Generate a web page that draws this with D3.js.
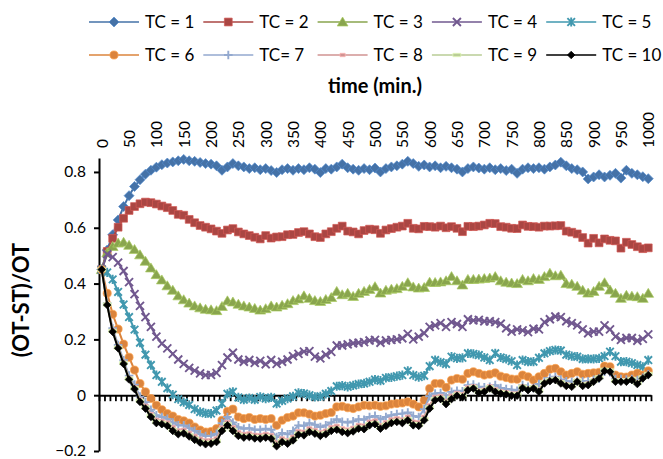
<!DOCTYPE html>
<html lang="en">
<head>
<meta charset="UTF-8">
<title>(OT-ST)/OT over time</title>
<script src="https://cdn.jsdelivr.net/npm/d3@7"></script>
<style>
  body { margin: 0; background: #fff; }
  svg { display: block; font-family: Lato, "Open Sans", sans-serif; }
</style>
</head>
<body>
<div id="chart"></div>
<script>
// categories: time in minutes, one point every 10 min
var times = d3.range(0, 1001, 10);
var xTickLabels = [0, 50, 100, 150, 200, 250, 300, 350, 400, 450, 500, 550, 600, 650, 700, 750, 800, 850, 900, 950, 1000];
var yTicks = [-0.2, 0, 0.2, 0.4, 0.6, 0.8];
var names = ["TC = 1", "TC = 2", "TC = 3", "TC = 4", "TC = 5", "TC = 6", "TC= 7", "TC = 8", "TC = 9", "TC = 10"];

var tc1 = [0.45,0.52,0.575,0.628,0.676,0.715,0.748,0.772,0.792,0.806,0.817,0.826,0.832,0.836,0.84,0.845,0.84,0.838,0.834,0.83,0.828,0.822,0.806,0.818,0.83,0.822,
  0.818,0.812,0.815,0.808,0.812,0.805,0.798,0.808,0.812,0.806,0.812,0.808,0.815,0.81,0.798,0.812,0.81,0.818,0.828,0.815,0.81,0.806,0.812,0.808,0.814,
  0.8,0.812,0.818,0.822,0.828,0.838,0.83,0.82,0.825,0.818,0.822,0.815,0.82,0.815,0.81,0.8,0.812,0.818,0.814,0.81,0.815,0.808,0.812,0.805,0.81,0.795,
  0.81,0.815,0.812,0.815,0.81,0.818,0.825,0.835,0.822,0.812,0.808,0.8,0.775,0.782,0.79,0.782,0.788,0.795,0.778,0.806,0.795,0.79,0.783,0.776];
var tc2 = [0.45,0.515,0.562,0.602,0.634,0.662,0.676,0.686,0.692,0.69,0.685,0.678,0.672,0.662,0.648,0.645,0.63,0.618,0.608,0.602,0.596,0.588,0.58,0.592,0.597,0.585,
  0.578,0.572,0.566,0.56,0.572,0.563,0.567,0.568,0.575,0.576,0.583,0.586,0.578,0.568,0.565,0.578,0.586,0.598,0.606,0.588,0.585,0.578,0.59,0.595,0.593,
  0.58,0.592,0.597,0.602,0.606,0.616,0.598,0.596,0.605,0.604,0.602,0.606,0.6,0.604,0.598,0.586,0.605,0.604,0.606,0.61,0.616,0.615,0.604,0.602,0.598,0.597,
  0.61,0.605,0.604,0.602,0.606,0.606,0.607,0.608,0.588,0.584,0.578,0.565,0.545,0.562,0.546,0.56,0.555,0.553,0.527,0.548,0.54,0.532,0.525,0.528];
var tc3 = [0.45,0.51,0.533,0.545,0.548,0.537,0.522,0.503,0.48,0.456,0.432,0.413,0.392,0.376,0.356,0.342,0.33,0.32,0.313,0.308,0.306,0.303,0.318,0.338,0.334,0.326,
  0.32,0.316,0.311,0.305,0.31,0.32,0.316,0.322,0.328,0.339,0.345,0.356,0.347,0.339,0.336,0.343,0.35,0.372,0.36,0.365,0.354,0.365,0.372,0.379,0.389,
  0.366,0.376,0.38,0.382,0.39,0.403,0.388,0.384,0.386,0.405,0.404,0.406,0.41,0.425,0.41,0.395,0.415,0.415,0.416,0.418,0.42,0.425,0.41,0.405,0.402,0.4,
  0.415,0.41,0.418,0.415,0.425,0.437,0.428,0.43,0.4,0.398,0.39,0.376,0.366,0.372,0.39,0.403,0.377,0.365,0.347,0.358,0.355,0.353,0.347,0.365];
var tc4 = [0.45,0.505,0.495,0.475,0.445,0.405,0.362,0.32,0.28,0.245,0.21,0.185,0.168,0.148,0.128,0.112,0.098,0.088,0.078,0.072,0.073,0.08,0.108,0.135,0.152,0.128,
  0.12,0.126,0.116,0.123,0.111,0.126,0.112,0.12,0.128,0.14,0.148,0.156,0.158,0.138,0.132,0.145,0.155,0.178,0.178,0.182,0.186,0.188,0.19,0.196,0.198,
  0.188,0.196,0.198,0.2,0.204,0.22,0.2,0.21,0.222,0.245,0.25,0.258,0.245,0.262,0.255,0.245,0.272,0.268,0.27,0.265,0.265,0.262,0.256,0.24,0.228,0.236,
  0.232,0.226,0.238,0.236,0.262,0.272,0.282,0.28,0.265,0.258,0.25,0.236,0.222,0.228,0.228,0.25,0.236,0.21,0.198,0.205,0.205,0.195,0.202,0.218];
var tc5 = [0.45,0.44,0.415,0.37,0.325,0.28,0.235,0.188,0.145,0.108,0.072,0.048,0.025,0.002,-0.014,-0.025,-0.035,-0.05,-0.06,-0.065,-0.066,-0.055,-0.03,0.005,0.012,-0.008,
  -0.016,-0.01,-0.016,-0.006,-0.012,-0.008,-0.03,-0.02,-0.012,-0.004,0.008,0.006,0.0,-0.006,-0.004,0.005,0.015,0.032,0.034,0.03,0.035,0.04,0.042,0.048,0.056,
  0.052,0.062,0.064,0.068,0.072,0.087,0.072,0.065,0.07,0.104,0.126,0.118,0.112,0.138,0.132,0.134,0.15,0.148,0.144,0.135,0.126,0.15,0.135,0.13,0.122,0.108,
  0.126,0.12,0.12,0.134,0.15,0.158,0.162,0.16,0.145,0.14,0.138,0.13,0.13,0.13,0.132,0.14,0.156,0.14,0.12,0.12,0.115,0.108,0.102,0.126];
var tc6 = [0.45,0.365,0.29,0.237,0.183,0.136,0.09,0.042,0.012,-0.012,-0.036,-0.052,-0.066,-0.075,-0.087,-0.092,-0.1,-0.114,-0.125,-0.132,-0.13,-0.12,-0.09,-0.058,-0.05,-0.078,
  -0.084,-0.08,-0.087,-0.084,-0.087,-0.084,-0.108,-0.09,-0.08,-0.075,-0.063,-0.063,-0.068,-0.075,-0.072,-0.066,-0.062,-0.042,-0.04,-0.045,-0.048,-0.042,-0.036,-0.038,-0.036,
  -0.04,-0.038,-0.032,-0.03,-0.028,-0.024,-0.032,-0.042,-0.018,0.024,0.042,0.042,0.028,0.054,0.06,0.057,0.078,0.084,0.078,0.072,0.075,0.08,0.068,0.063,0.058,0.057,
  0.072,0.066,0.054,0.066,0.078,0.093,0.096,0.084,0.072,0.078,0.084,0.075,0.078,0.08,0.082,0.104,0.102,0.072,0.066,0.065,0.072,0.078,0.072,0.087];
var tc7 = [0.45,0.33,0.24,0.18,0.125,0.07,0.038,-0.005,-0.025,-0.052,-0.072,-0.078,-0.085,-0.098,-0.108,-0.108,-0.118,-0.128,-0.14,-0.146,-0.145,-0.138,-0.1,-0.078,-0.098,-0.115,
  -0.12,-0.118,-0.124,-0.124,-0.12,-0.124,-0.15,-0.135,-0.14,-0.128,-0.108,-0.11,-0.1,-0.106,-0.114,-0.108,-0.098,-0.086,-0.095,-0.098,-0.094,-0.086,-0.088,-0.078,-0.074,
  -0.086,-0.078,-0.072,-0.068,-0.066,-0.062,-0.074,-0.078,-0.05,-0.004,0.006,0.008,-0.006,0.012,0.016,0.014,0.036,0.038,0.03,0.028,0.03,0.036,0.026,0.022,0.02,0.016,
  0.036,0.03,0.026,0.04,0.05,0.062,0.066,0.056,0.05,0.048,0.052,0.05,0.05,0.055,0.06,0.084,0.082,0.058,0.058,0.056,0.058,0.054,0.062,0.075];
var tc8 = [0.45,0.326,0.232,0.172,0.117,0.061,0.028,-0.016,-0.038,-0.068,-0.088,-0.092,-0.098,-0.114,-0.126,-0.124,-0.135,-0.146,-0.156,-0.162,-0.161,-0.155,-0.116,-0.096,-0.115,-0.133,
  -0.139,-0.137,-0.142,-0.143,-0.139,-0.143,-0.17,-0.155,-0.161,-0.149,-0.129,-0.131,-0.119,-0.125,-0.133,-0.127,-0.115,-0.11,-0.119,-0.123,-0.117,-0.107,-0.109,-0.095,-0.091,
  -0.107,-0.097,-0.087,-0.083,-0.087,-0.077,-0.095,-0.097,-0.077,-0.036,-0.006,-0.003,-0.02,-0.002,0.008,0.003,0.028,0.032,0.017,0.02,0.032,0.021,0.014,0.011,0.006,0.006,
  0.032,0.025,0.03,0.02,0.048,0.055,0.059,0.048,0.039,0.036,0.053,0.039,0.042,0.053,0.065,0.09,0.088,0.053,0.053,0.053,0.059,0.046,0.065,0.076];
var tc9 = [0.45,0.325,0.23,0.17,0.115,0.059,0.025,-0.02,-0.044,-0.074,-0.096,-0.1,-0.106,-0.124,-0.136,-0.133,-0.144,-0.156,-0.166,-0.172,-0.17,-0.164,-0.124,-0.104,-0.124,-0.142,
  -0.148,-0.146,-0.151,-0.152,-0.148,-0.152,-0.179,-0.164,-0.17,-0.158,-0.138,-0.14,-0.128,-0.134,-0.142,-0.136,-0.124,-0.12,-0.128,-0.132,-0.126,-0.116,-0.118,-0.104,-0.1,
  -0.116,-0.106,-0.096,-0.092,-0.096,-0.086,-0.104,-0.106,-0.086,-0.044,-0.014,-0.01,-0.028,-0.01,0.002,-0.004,0.022,0.028,0.012,0.016,0.028,0.016,0.01,0.007,0.002,0.002,
  0.03,0.022,0.028,0.016,0.046,0.054,0.058,0.046,0.037,0.034,0.052,0.037,0.04,0.052,0.064,0.091,0.088,0.052,0.052,0.052,0.058,0.044,0.064,0.076];
var tc10 = [0.45,0.323,0.227,0.168,0.112,0.056,0.022,-0.024,-0.048,-0.078,-0.1,-0.104,-0.11,-0.128,-0.14,-0.137,-0.148,-0.16,-0.17,-0.176,-0.174,-0.168,-0.128,-0.108,-0.128,-0.146,
  -0.152,-0.15,-0.155,-0.156,-0.152,-0.156,-0.183,-0.168,-0.174,-0.162,-0.142,-0.144,-0.132,-0.138,-0.146,-0.14,-0.128,-0.124,-0.132,-0.136,-0.13,-0.12,-0.122,-0.108,-0.104,
  -0.12,-0.11,-0.1,-0.096,-0.1,-0.09,-0.108,-0.11,-0.09,-0.048,-0.018,-0.014,-0.032,-0.014,-0.002,-0.008,0.018,0.024,0.008,0.012,0.024,0.012,0.006,0.003,-0.002,-0.002,
  0.026,0.018,0.024,0.012,0.042,0.05,0.054,0.042,0.033,0.03,0.048,0.033,0.036,0.048,0.06,0.087,0.084,0.048,0.048,0.048,0.054,0.04,0.06,0.072];

var colors = ["#4572A7", "#AA4643", "#89A54E", "#71588F", "#4198AF", "#DB843D", "#93A9CF", "#D19392", "#B9CD96", "#000000"];
var markers = ["diamond", "square", "triangle", "x", "star", "circle", "plus", "smallrect", "dash", "smalldiamond"];
var values = [tc1, tc2, tc3, tc4, tc5, tc6, tc7, tc8, tc9, tc10];

var series = names.map(function(n, k) {
  return { name: n, values: values[k], color: colors[k], marker: markers[k] };
});

var width = 663, height = 459;
var plotLeft = 99, plotRight = 651, plotTop = 158, plotBottom = 451;

var svg = d3.select("#chart").append("svg")
  .attr("width", width).attr("height", height);
svg.append("rect").attr("width", width).attr("height", height).attr("fill", "#fff");

// category axis: points sit between tick marks
var x = d3.scaleLinear().domain([-0.5, times.length - 0.5]).range([plotLeft, plotRight]);
var y = d3.scaleLinear().domain([-0.2, 0.85]).range([plotBottom, plotTop]);

function markerPath(type) {
  switch (type) {
    case "diamond": return "M0,-5L5,0L0,5L-5,0Z";
    case "smalldiamond": return "M0,-3.8L3.8,0L0,3.8L-3.8,0Z";
    case "square": return "M-3.9,-3.9h7.8v7.8h-7.8Z";
    case "triangle": return "M0,-5L5.4,4L-5.4,4Z";
    case "x": return "M-4,-4L4,4M-4,4L4,-4";
    case "star": return "M-3.8,-3.8L3.8,3.8M-3.8,3.8L3.8,-3.8M0,-4.6V4.6";
    case "circle": return d3.symbol(d3.symbolCircle, 52)();
    case "plus": return "M-4.3,0H4.3M0,-4.3V4.3";
    case "smallrect": return "M-2.6,-1.7h5.2v3.4h-5.2Z";
    case "dash": return "M-4,-1.7h8v3.4h-8Z";
  }
}
function isStroked(type) { return type === "x" || type === "star" || type === "plus"; }

function drawMarker(g, type, color) {
  var p = g.append("path").attr("d", markerPath(type));
  if (isStroked(type)) p.attr("fill", "none").attr("stroke", color).attr("stroke-width", 1.9);
  else p.attr("fill", color).attr("stroke", d3.color(color).brighter(0.6)).attr("stroke-width", 0.7);
  return p;
}

// axes
var yAxis = d3.axisLeft(y).tickValues(yTicks).tickSizeInner(5).tickSizeOuter(0).tickPadding(8)
  .tickFormat(function(d) { return d === 0 ? "0" : d3.format(".1f")(d); });
var gy = svg.append("g").attr("transform", "translate(" + plotLeft + ",0)").call(yAxis);
gy.select(".domain").attr("stroke", "#000").attr("stroke-width", 2);
gy.selectAll(".tick line").attr("stroke", "#000").attr("stroke-width", 2);
gy.selectAll(".tick text").attr("font-size", 15.5).attr("fill", "#000").attr("font-family", "Lato, sans-serif");

var xAxis = d3.axisBottom(x).tickValues(d3.range(-0.5, times.length, 1)).tickSizeInner(6).tickSizeOuter(0).tickFormat("");
var gx = svg.append("g").attr("transform", "translate(0," + y(0) + ")").call(xAxis);
gx.select(".domain").attr("stroke", "#000").attr("stroke-width", 2);
gx.selectAll(".tick line").attr("stroke", "#000").attr("stroke-width", 1.8);

// time labels along the top
var labelIdx = xTickLabels.map(function(t) { return times.indexOf(t); });
var gt = svg.append("g").attr("transform", "translate(0," + plotTop + ")")
  .call(d3.axisTop(x).tickValues(labelIdx).tickSize(0).tickFormat(function(i) { return times[i]; }));
gt.select(".domain").remove();
gt.selectAll(".tick text")
  .attr("font-size", 15.5).attr("font-family", "Lato, sans-serif").attr("fill", "#000")
  .attr("transform", "rotate(-90)")
  .attr("text-anchor", "start").attr("x", 10).attr("y", 0).attr("dy", "0.35em");

// series lines + markers
var line = d3.line().x(function(d, i) { return x(i); }).y(function(d) { return y(d); });
series.forEach(function(s) {
  var g = svg.append("g");
  g.append("path").datum(s.values).attr("d", line)
    .attr("fill", "none").attr("stroke", s.color).attr("stroke-width", 2);
  s.values.forEach(function(v, i) {
    var m = g.append("g").attr("transform", "translate(" + x(i) + "," + y(v) + ")");
    drawMarker(m, s.marker, s.color);
  });
});

// titles
svg.append("text").attr("x", 375).attr("y", 93).attr("text-anchor", "middle")
  .attr("font-weight", "bold").attr("font-size", 20).text("time (min.)");
svg.append("text").attr("transform", "translate(29,300) rotate(-90)").attr("text-anchor", "middle")
  .attr("font-weight", "bold").attr("font-size", 22).text("(OT-ST)/OT");

// legend, 2 rows of 5
var legend = svg.append("g");
series.forEach(function(s, k) {
  var col = k % 5, row = Math.floor(k / 5);
  var lx = 89 + col * 114.3, ly = 22 + row * 33;
  var item = legend.append("g").attr("transform", "translate(" + lx + "," + ly + ")");
  item.append("line").attr("x1", 0).attr("x2", 50).attr("stroke", s.color).attr("stroke-width", 1.6);
  var m = item.append("g").attr("transform", "translate(25,0)");
  drawMarker(m, s.marker, s.color);
  item.append("text").attr("x", 56).attr("dy", "0.35em").attr("font-size", 17).text(s.name);
});
</script>
</body>
</html>
